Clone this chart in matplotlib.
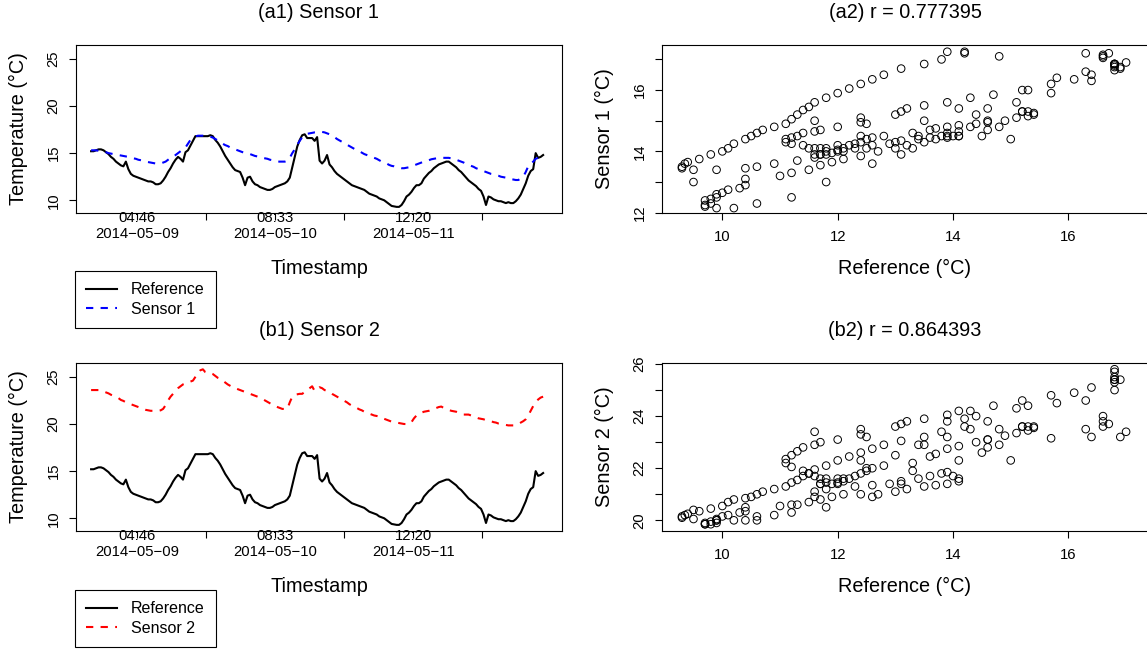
import numpy as np
import pandas as pd
import matplotlib
matplotlib.use('Agg')
import matplotlib.pyplot as plt
from matplotlib.lines import Line2D

plt.rcParams['font.family'] = ['Liberation Sans', 'DejaVu Sans']

# half-hourly readings starting 2014-05-08 19:30
start = pd.Timestamp('2014-05-08 19:30')

reference = [
    15.2, 15.2, 15.3, 15.4, 15.4, 15.3, 15.1, 14.9, 14.6, 14.4,
    14.1, 13.9, 13.7, 13.6, 14.1, 13.3, 12.8, 12.6, 12.5, 12.4,
    12.3, 12.2, 12.1, 12.0, 12.0, 11.9, 11.7, 11.7, 11.8, 12.1,
    12.5, 13.0, 13.4, 13.9, 14.3, 14.6, 14.4, 14.1, 15.1, 15.3,
    15.8, 16.3, 16.8, 16.8, 16.8, 16.8, 16.8, 16.8, 16.9, 16.8,
    16.4, 16.1, 15.7, 15.2, 14.7, 14.3, 13.9, 13.5, 13.2, 13.1,
    13.0, 12.4, 11.6, 12.4, 12.5, 12.0, 11.7, 11.6, 11.4, 11.3,
    11.2, 11.1, 11.1, 11.2, 11.4, 11.5, 11.6, 11.7, 11.8, 12.0,
    12.4, 13.5, 14.6, 15.7, 16.4, 16.9, 17.0, 16.6, 16.6, 16.6,
    16.3, 16.7, 14.2, 13.9, 14.2, 14.8, 13.8, 13.5, 13.1, 12.8,
    12.6, 12.4, 12.2, 12.0, 11.8, 11.6, 11.5, 11.4, 11.3, 11.2,
    11.1, 10.9, 10.7, 10.6, 10.5, 10.4, 10.2, 10.1, 10.0, 9.8,
    9.6, 9.4, 9.35, 9.3, 9.3, 9.5, 9.9, 10.4, 10.6, 10.9,
    11.3, 11.6, 11.6, 11.8, 12.3, 12.6, 12.9, 13.1, 13.4, 13.6,
    13.8, 13.9, 14.0, 14.1, 14.1, 13.9, 13.7, 13.5, 13.2, 13.0,
    12.7, 12.4, 12.1, 11.9, 11.7, 11.5, 11.2, 11.0, 10.4, 9.5,
    10.4, 10.3, 10.1, 10.0, 9.9, 9.9, 9.8, 9.7, 9.8, 9.7,
    9.7, 9.9, 10.2, 10.6, 11.2, 11.8, 12.6, 13.1, 13.3, 15.0,
    14.5, 14.6, 14.8,
]

sensor1 = [
    15.3, 15.3, 15.3, 15.25, 15.2, 15.15, 15.1, 15.0, 14.95, 14.9,
    14.85, 14.8, 14.75, 14.7, 14.65, 14.6, 14.5, 14.45, 14.4, 14.3,
    14.25, 14.2, 14.1, 14.05, 14.0, 13.95, 13.9, 13.9, 13.9, 14.0,
    14.1, 14.3, 14.5, 14.6, 14.8, 15.0, 15.2, 15.4, 15.6, 16.0,
    16.4, 16.6, 16.75, 16.85, 16.85, 16.85, 16.85, 16.8, 16.75, 16.65,
    16.5, 16.35, 16.2, 16.0, 15.85, 15.75, 15.6, 15.5, 15.4, 15.3,
    15.2, 15.1, 15.0, 14.95, 14.9, 14.8, 14.7, 14.65, 14.6, 14.5,
    14.45, 14.4, 14.3, 14.25, 14.2, 14.1, 14.1, 14.1, 14.1, 14.2,
    14.5, 15.0, 15.4, 15.9, 16.3, 16.7, 16.9, 17.05, 17.1, 17.15,
    17.2, 17.2, 17.25, 17.25, 17.2, 17.1, 17.0, 16.85, 16.7, 16.5,
    16.35, 16.2, 16.05, 15.9, 15.75, 15.6, 15.45, 15.35, 15.2, 15.05,
    14.9, 14.8, 14.7, 14.6, 14.5, 14.4, 14.25, 14.1, 14.0, 13.9,
    13.75, 13.65, 13.6, 13.5, 13.45, 13.4, 13.4, 13.45, 13.5, 13.6,
    13.7, 13.8, 13.9, 14.0, 14.1, 14.2, 14.25, 14.35, 14.4, 14.45,
    14.5, 14.5, 14.5, 14.5, 14.5, 14.45, 14.4, 14.3, 14.2, 14.1,
    14.0, 13.85, 13.75, 13.65, 13.55, 13.4, 13.3, 13.2, 13.1, 13.0,
    12.9, 12.8, 12.75, 12.65, 12.6, 12.5, 12.45, 12.4, 12.3, 12.25,
    12.2, 12.15, 12.15, 12.3, 12.5, 13.0, 13.6, 13.9, 14.1, 14.4,
    14.5, 14.7, 14.8,
]

sensor2 = [
    23.6, 23.6, 23.6, 23.6, 23.55, 23.45, 23.35, 23.25, 23.1, 23.0,
    22.85, 22.75, 22.55, 22.45, 22.3, 22.2, 22.1, 22.0, 21.9, 21.8,
    21.7, 21.6, 21.5, 21.45, 21.4, 21.4, 21.4, 21.4, 21.45, 21.6,
    22.0, 22.5, 22.9, 23.2, 23.5, 23.8, 24.0, 24.2, 24.3, 24.4,
    24.5, 24.6, 25.0, 25.4, 25.7, 25.8, 25.5, 25.4, 25.4, 25.3,
    25.1, 24.9, 24.8, 24.6, 24.4, 24.2, 24.05, 23.9, 23.8, 23.7,
    23.6, 23.5, 23.4, 23.3, 23.2, 23.1, 23.0, 22.9, 22.8, 22.65,
    22.5, 22.35, 22.2, 22.05, 21.9, 21.8, 21.7, 21.6, 21.6, 21.6,
    22.3, 22.9, 23.1, 23.15, 23.2, 23.2, 23.4, 23.6, 23.8, 24.0,
    23.5, 23.7, 23.9, 23.8, 23.6, 23.5, 23.4, 23.2, 23.05, 22.9,
    22.75, 22.6, 22.45, 22.3, 22.1, 21.95, 21.8, 21.7, 21.55, 21.45,
    21.3, 21.2, 21.1, 21.0, 20.9, 20.85, 20.8, 20.7, 20.55, 20.45,
    20.35, 20.25, 20.2, 20.15, 20.1, 20.05, 20.0, 20.0, 20.0, 20.2,
    20.6, 20.9, 21.1, 21.2, 21.3, 21.35, 21.4, 21.5, 21.6, 21.7,
    21.8, 21.85, 21.7, 21.6, 21.5, 21.4, 21.35, 21.3, 21.2, 21.1,
    21.0, 21.0, 21.0, 20.9, 20.8, 20.7, 20.6, 20.55, 20.5, 20.4,
    20.35, 20.3, 20.2, 20.15, 20.05, 20.0, 19.95, 19.9, 19.85, 19.85,
    19.85, 19.9, 20.0, 20.15, 20.3, 20.5, 20.9, 21.4, 21.9, 22.3,
    22.6, 22.8, 22.9,
]

times = pd.date_range(start, periods=len(reference), freq='30min')

tick_times = pd.to_datetime(['2014-05-09 04:46:40', '2014-05-09 18:40:00',
                             '2014-05-10 08:33:20', '2014-05-10 22:26:40',
                             '2014-05-11 12:20:00', '2014-05-12 02:13:20'])
tick_labels = ['04:46\n2014\u221205\u221209', '', '08:33\n2014\u221205\u221210', '',
               '12:20\n2014\u221205\u221211', '']

W, H = 1147, 651
fig = plt.figure(figsize=(W / 100, H / 100), dpi=100)


def box(l, t, r, b):
    return [l / W, 1 - b / H, (r - l) / W, (b - t) / H]


LAB = 14.3
TICK = 10.7


def style(ax, ylabel, xlabel, title):
    for s in ax.spines.values():
        s.set_linewidth(0.8)
    ax.tick_params(length=5, width=0.8, labelsize=TICK)
    ax.tick_params(axis='y', pad=6)
    for lbl in ax.get_yticklabels():
        lbl.set_rotation(90)
        lbl.set_va('center')
    ax.set_xlabel(xlabel, fontsize=LAB)
    ax.set_ylabel(ylabel, fontsize=LAB)
    ax.xaxis.set_label_coords(0.5, -55 / 168)
    ax.xaxis.label.set_va('center')
    ax.yaxis.set_label_coords(-58 / 486, 0.5)
    ax.yaxis.label.set_va('center')
    ax.set_title(title, fontsize=LAB, y=1 + 32 / 168, va='center', pad=0)


def time_panel(ax, sensor, color, name, title):
    ax.plot(times, reference, color='black', lw=1.5)
    ax.plot(times, sensor, color=color, lw=1.5, ls=(0, (3.5, 3.5)))
    ax.set_xlim(start - pd.Timedelta(hours=3.04), start + pd.Timedelta(hours=94.8))
    ax.set_ylim(8.65, 26.47)
    ax.set_xticks(tick_times)
    ax.set_xticklabels(tick_labels)
    ax.set_yticks([10, 15, 20, 25])
    ax.set_yticklabels(['10', '15', '20', '25'])
    style(ax, 'Temperature (\u00b0C)', 'Timestamp', title)
    ax.tick_params(axis='x', pad=-6.8)


def scatter_panel(ax, sensor, yticks, ylim, ylabel, title):
    ax.scatter(reference, sensor, s=30, facecolors='none', edgecolors='black', linewidths=0.7)
    ax.set_xlim(8.954, 17.38)
    ax.set_ylim(*ylim)
    ax.set_xticks([10, 12, 14, 16])
    ax.set_xticklabels(['10', '12', '14', '16'])
    ax.set_yticks(yticks)
    ax.set_yticklabels([str(v) if i % 2 == 0 else '' for i, v in enumerate(yticks)])
    style(ax, ylabel, 'Reference (\u00b0C)', title)
    ax.tick_params(axis='x', pad=7)


ax1 = fig.add_axes(box(76, 45, 562, 213))
time_panel(ax1, sensor1, 'blue', 'Sensor 1', '(a1) Sensor 1')
ax2 = fig.add_axes(box(662, 45, 1148, 213))
scatter_panel(ax2, sensor1, [12, 13, 14, 15, 16, 17], (11.99, 17.47), 'Sensor 1 (\u00b0C)', '(a2) r = 0.777395')
ax3 = fig.add_axes(box(76, 363, 562, 531))
time_panel(ax3, sensor2, 'red', 'Sensor 2', '(b1) Sensor 2')
ax4 = fig.add_axes(box(662, 363, 1148, 531))
scatter_panel(ax4, sensor2, [20, 21, 22, 23, 24, 25, 26], (19.59, 26.04), 'Sensor 2 (\u00b0C)', '(b2) r = 0.864393')

for top, color, name in [(271, 'blue', 'Sensor 1'), (590, 'red', 'Sensor 2')]:
    handles = [Line2D([], [], color='black', lw=1.5),
               Line2D([], [], color=color, lw=1.5, ls=(0, (3.5, 3.5)))]
    leg = fig.legend(handles, ['Reference', name], loc='upper left',
                     bbox_to_anchor=(75 / W, 1 - top / H), fontsize=11.5,
                     frameon=True, fancybox=False, edgecolor='black', framealpha=1,
                     handlelength=1.9, handletextpad=0.9, borderpad=0.7,
                     labelspacing=0.3, borderaxespad=0)
    leg.get_frame().set_linewidth(0.8)

fig.savefig('out.png', dpi=100)
